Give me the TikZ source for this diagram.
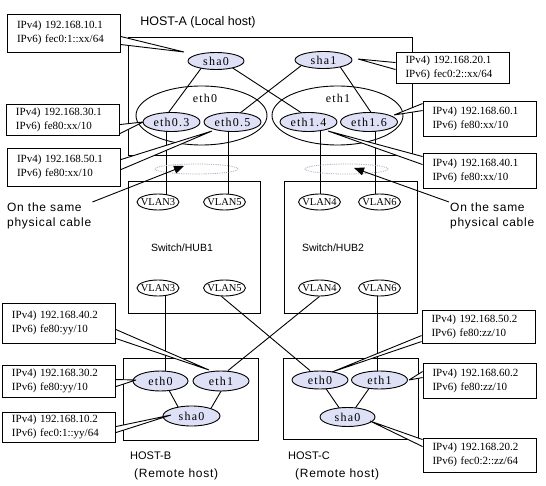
\documentclass[tikz,border=0pt]{standalone}
\usepackage{fontspec}
\setmainfont{Liberation Serif}
\setsansfont{Liberation Sans}
\newfontfamily\ipfam{Liberation Serif}
\newfontfamily\elfam{Liberation Serif}[LetterSpace=10]
\newfontfamily\sansfam{Liberation Sans}
\newfontfamily\notefam{Liberation Sans}[LetterSpace=6]
\usetikzlibrary{shapes.geometric,arrows.meta}
\pgfdeclarelayer{bg}
\pgfdeclarelayer{fg}
\pgfsetlayers{bg,main,fg}
\definecolor{ifill}{RGB}{222,224,246}
\definecolor{cablec}{RGB}{165,165,185}
\newcommand\cwedge[3]{\fill[white] #1 -- #2 -- #3 -- cycle; \draw[conn] #1 -- #2 -- #3;}
\begin{document}
\begin{tikzpicture}[x=1pt,y=-1pt,
  conn/.style={line width=0.9pt, line join=bevel},
  box/.style={draw, rectangle, line width=0.9pt, inner sep=0pt},
  ifnode/.style={draw, ellipse, line width=0.9pt, fill=ifill, inner sep=0pt,
     minimum width=57pt, minimum height=19pt, font=\elfam\fontsize{12}{14}\selectfont},
  bigell/.style={draw, ellipse, line width=0.9pt, inner sep=0pt, minimum width=131pt, minimum height=59pt},
  elbl/.style={inner sep=0pt, font=\elfam\fontsize{12}{14}\selectfont},
  vlan/.style={draw, ellipse, line width=0.9pt, fill=white, inner sep=0pt,
     minimum width=42pt, minimum height=16pt, font=\ipfam\fontsize{10.5}{13}\selectfont},
  cable/.style={draw=cablec, densely dotted, line width=0.8pt, ellipse, inner sep=0pt,
     minimum width=83pt, minimum height=10pt},
  ipbox/.style={draw, fill=white, rectangle, line width=0.9pt, inner xsep=9.5pt, inner ysep=0pt,
     text width=94pt, align=left, font=\ipfam\fontsize{11}{14}\selectfont},
  sanslbl/.style={inner sep=1pt, font=\sansfam\fontsize{12}{14}\selectfont},
  note/.style={inner sep=1pt, align=left, font=\notefam\fontsize{12}{15}\selectfont},
  arr/.style={conn, -{Triangle[length=10pt,width=8pt]}}
]
\useasboundingbox (0,0) rectangle (546,486);
\begin{pgfonlayer}{bg}
\fill[white] (0,0) rectangle (546,486);
\end{pgfonlayer}

% ---- boxes
\node[box, minimum width=284pt, minimum height=118pt] (hostA) at (270,96) {};
\node[box, minimum width=132pt, minimum height=132pt] (sw1) at (194,247) {};
\node[box, minimum width=133pt, minimum height=132pt] (sw2) at (350.5,247) {};
\node[box, minimum width=135pt, minimum height=82pt] (hostB) at (190.5,399) {};
\node[box, minimum width=135pt, minimum height=81pt] (hostC) at (350.5,398.5) {};

% ---- titles
\node[sanslbl, font=\sansfam\fontsize{12.5}{14}\selectfont] (tA) at (198,22) {HOST-A (Local host)};
\node[sanslbl, font=\sansfam\fontsize{10.5}{14}\selectfont] (tsw1) at (182,248) {Switch/HUB1};
\node[sanslbl, font=\sansfam\fontsize{10.5}{14}\selectfont] (tsw2) at (333,248) {Switch/HUB2};
\node[sanslbl, anchor=west, font=\sansfam\fontsize{11}{14}\selectfont] (tB1) at (129,456) {HOST-B};
\node[note, anchor=west] (tB2) at (133,474) {(Remote host)};
\node[sanslbl, anchor=west, font=\sansfam\fontsize{11}{14}\selectfont] (tC1) at (287,456) {HOST-C};
\node[note, anchor=west] (tC2) at (294,474) {(Remote host)};

% ---- HOST-A interfaces
\node[bigell] (eth0b) at (201.5,115.5) {};
\node[bigell] (eth1b) at (337.5,115.5) {};
\node[elbl] (leth0) at (205,98) {eth0};
\node[elbl] (leth1) at (338,98) {eth1};
\node[ifnode, minimum width=56pt, minimum height=17pt] (sha0A) at (216,61) {\makebox[0pt]{sha0}};
\node[ifnode, minimum width=57pt, minimum height=17pt] (sha1A) at (323.5,60) {\makebox[0pt]{sha1}};
\node[ifnode] (eth03) at (171.5,122) {\makebox[0pt]{eth0.3}};
\node[ifnode] (eth05) at (232.5,122) {\makebox[0pt]{eth0.5}};
\node[ifnode] (eth14) at (308.5,122) {\makebox[0pt]{eth1.4}};
\node[ifnode] (eth16) at (369,122) {\makebox[0pt]{eth1.6}};

% ---- VLANs
\node[vlan] (v3t) at (158,202) {\makebox[0pt]{VLAN3}};
\node[vlan] (v5t) at (224.5,202) {\makebox[0pt]{VLAN5}};
\node[vlan] (v4t) at (319.5,202) {\makebox[0pt]{VLAN4}};
\node[vlan] (v6t) at (379.5,202) {\makebox[0pt]{VLAN6}};
\node[vlan] (v3b) at (158,288) {\makebox[0pt]{VLAN3}};
\node[vlan] (v5b) at (224.5,288) {\makebox[0pt]{VLAN5}};
\node[vlan] (v4b) at (319.5,288) {\makebox[0pt]{VLAN4}};
\node[vlan] (v6b) at (379.5,288) {\makebox[0pt]{VLAN6}};

% ---- HOST-B / HOST-C interfaces
\node[ifnode, minimum width=55pt, minimum height=20pt] (beth0) at (160.5,381) {\makebox[0pt]{eth0}};
\node[ifnode, minimum width=56pt, minimum height=20pt] (beth1) at (221,381) {\makebox[0pt]{eth1}};
\node[ifnode, minimum width=57pt, minimum height=20pt] (bsha0) at (191.5,416) {\makebox[0pt]{sha0}};
\node[ifnode, minimum width=56pt, minimum height=18pt] (ceth0) at (320,380) {\makebox[0pt]{eth0}};
\node[ifnode, minimum width=56pt, minimum height=18pt] (ceth1) at (379.5,380) {\makebox[0pt]{eth1}};
\node[ifnode, minimum width=55pt, minimum height=19pt] (csha0) at (347.5,417) {\makebox[0pt]{sha0}};

% ---- same physical cable
\node[cable] (cab1) at (196.5,169) {};
\node[cable] (cab2) at (346.5,169) {};
\node[note, anchor=north west] (notel) at (6,202) {On the same\\physical cable};
\node[note, anchor=north west] (noter) at (449,202) {On the same\\physical cable};
\coordinate (ta1) at (184,166);
\coordinate (ta2) at (354,168);
\draw[arr] (notel.north east) -- (ta1);
\draw[arr] (noter.north west) -- (ta2);

% ---- connectors (behind)
\begin{pgfonlayer}{bg}
\draw[conn] ([xshift=-9.5pt]sha0A.center) -- ([xshift=-10pt]eth03.center);
\draw[conn] ([xshift=6pt]sha0A.center) -- ([xshift=7pt]eth14.center);
\draw[conn] ([xshift=-15pt]sha1A.center) -- ([xshift=-4pt]eth05.center);
\draw[conn] ([xshift=12pt]sha1A.center) -- ([xshift=8.5pt]eth16.center);
\coordinate (x1) at ([xshift=-5.5pt]eth03.center);
\coordinate (x2) at ([xshift=-4.5pt]eth05.center);
\coordinate (x3) at ([xshift=11.5pt]eth14.center);
\coordinate (x4) at ([xshift=6pt]eth16.center);
\draw[conn] (x1) -- (x1 |- v3t.center);
\draw[conn] (x2) -- (x2 |- v5t.center);
\draw[conn] (x3) -- (x3 |- v4t.center);
\draw[conn] (x4) -- (x4 |- v6t.center);
\coordinate (x5) at ([xshift=7pt]v3b.center);
\coordinate (x6) at ([xshift=-2.5pt]v6b.center);
\draw[conn] (x5) -- (x5 |- beth0.center);
\draw[conn] (x6) -- (x6 |- ceth1.center);
\draw[conn] ([xshift=-3pt]v5b.south) -- ([xshift=-10pt]ceth0.north);
\draw[conn] (v4b.south) -- ([xshift=7pt]beth1.north);
\draw[conn] ([xshift=3.5pt]beth0.center) -- ([xshift=-8.5pt]bsha0.center);
\draw[conn] ([xshift=6pt]beth1.center) -- ([xshift=15pt]bsha0.center);
\draw[conn] (ceth0.center) -- ([xshift=-2pt]csha0.center);
\draw[conn] ([xshift=-4.5pt]ceth1.center) -- ([xshift=1.5pt]csha0.center);
\end{pgfonlayer}

% ---- callout boxes (front)
\begin{pgfonlayer}{fg}
\node[ipbox, minimum height=38pt] (c1) at (64,33) {IPv4) 192.168.10.1\\IPv6) fec0:1::xx/64};
\node[ipbox, minimum height=31pt] (c2) at (452.5,67.5) {IPv4) 192.168.20.1\\IPv6) fec0:2::xx/64};
\node[ipbox, minimum height=31pt] (c3) at (63,119.5) {IPv4) 192.168.30.1\\IPv6) fe80:xx/10};
\node[ipbox, minimum height=38pt] (c4) at (64,167) {IPv4) 192.168.50.1\\IPv6) fe80:xx/10};
\node[ipbox, minimum height=35pt] (c5) at (479.5,118.5) {IPv4) 192.168.60.1\\IPv6) fe80:xx/10};
\node[ipbox, minimum height=35pt] (c6) at (479.5,170.5) {IPv4) 192.168.40.1\\IPv6) fe80:xx/10};
\node[ipbox, minimum height=40pt] (c7) at (59,323) {IPv4) 192.168.40.2\\IPv6) fe80:yy/10};
\node[ipbox, minimum height=32pt] (c8) at (59,381) {IPv4) 192.168.30.2\\IPv6) fe80:yy/10};
\node[ipbox, minimum height=30pt] (c9) at (59,427) {IPv4) 192.168.10.2\\IPv6) fec0:1::yy/64};
\node[ipbox, minimum height=33pt] (c10) at (478.5,326.5) {IPv4) 192.168.50.2\\IPv6) fe80:zz/10};
\node[ipbox, minimum height=35pt] (c11) at (479.5,380.5) {IPv4) 192.168.60.2\\IPv6) fe80:zz/10};
\node[ipbox, minimum height=34pt] (c12) at (479.5,455) {IPv4) 192.168.20.2\\IPv6) fec0:2::zz/64};
\end{pgfonlayer}

% ---- callout pointers
\coordinate (t1) at (184,52);
\coordinate (t2) at (358,59);
\coordinate (t3) at (143,122);
\coordinate (t4) at (212,131);
\coordinate (t5) at (394,115);
\coordinate (t6) at (328,131);
\coordinate (t7) at (209,370);
\coordinate (t8) at (136,380);
\coordinate (t9) at (171,415);
\coordinate (t10) at (332,372);
\coordinate (t11) at (409,380);
\coordinate (t12) at (370,421);
\cwedge{([yshift=-23pt]c1.north east)}{(t1)}{([yshift=-31pt]c1.north east)}
\cwedge{([yshift=-11pt]c2.north west)}{(t2)}{([yshift=-18pt]c2.north west)}
\cwedge{([yshift=-21pt]c3.north east)}{(t3)}{([yshift=-30pt]c3.north east)}
\cwedge{([yshift=-12pt]c4.north east)}{(t4)}{([yshift=-22pt]c4.north east)}
\cwedge{([yshift=-3pt]c5.north west)}{(t5)}{([yshift=-10pt]c5.north west)}
\cwedge{([yshift=-4pt]c6.north west)}{(t6)}{([yshift=-12pt]c6.north west)}
\cwedge{([yshift=-27pt]c7.north east)}{(t7)}{([yshift=-36pt]c7.north east)}
\cwedge{([yshift=-15pt]c8.north east)}{(t8)}{([yshift=-22pt]c8.north east)}
\cwedge{([yshift=-15pt]c9.north east)}{(t9)}{([yshift=-21pt]c9.north east)}
\cwedge{([yshift=-26pt]c10.north west)}{(t10)}{([yshift=-32pt]c10.north west)}
\cwedge{([yshift=-9pt]c11.north west)}{(t11)}{([yshift=-15pt]c11.north west)}
\cwedge{([yshift=-2pt]c12.north west)}{(t12)}{([yshift=-9pt]c12.north west)}
\end{tikzpicture}
\end{document}
